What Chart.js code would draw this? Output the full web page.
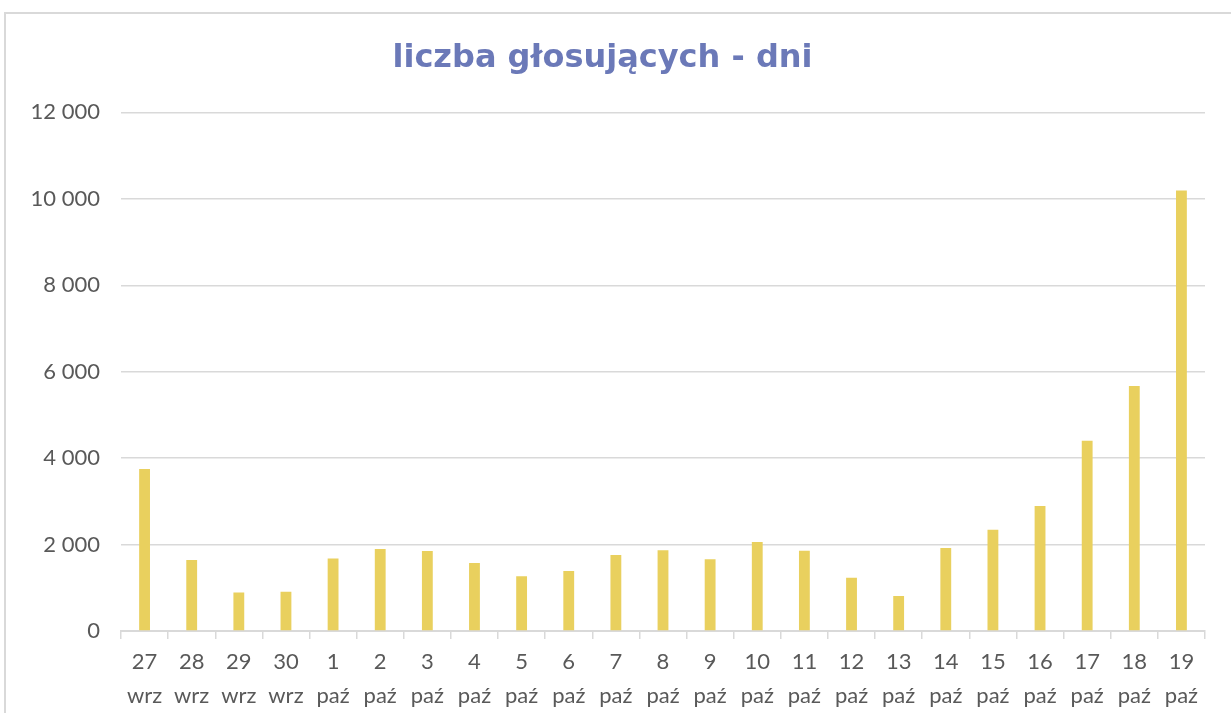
<!DOCTYPE html>
<html>
<head>
<meta charset="utf-8">
<script src="https://cdn.jsdelivr.net/npm/chart.js@4"></script>
<style>
  html, body { margin: 0; padding: 0; background: #fff; overflow: hidden; }
  #frame {
    position: absolute; left: 4px; top: 12px; width: 1240px; height: 720px;
    border: 2px solid #d9d9d9; box-sizing: border-box;
  }
  #wrap { position: absolute; left: 0; top: 0; width: 1231px; height: 713px; }
</style>
</head>
<body>
<div id="frame"></div>
<div id="wrap"><canvas id="chart"></canvas></div>
<script>
// dni głosowania
const days = ['27', '28', '29', '30', '1', '2', '3', '4', '5', '6', '7', '8',
  '9', '10', '11', '12', '13', '14', '15', '16', '17', '18', '19'];
const months = ['wrz', 'wrz', 'wrz', 'wrz', 'paź', 'paź', 'paź', 'paź', 'paź',
  'paź', 'paź', 'paź', 'paź', 'paź', 'paź', 'paź', 'paź', 'paź', 'paź', 'paź',
  'paź', 'paź', 'paź'];
const voters = [3750, 1645, 890, 910, 1675, 1900, 1850, 1575, 1265, 1390, 1760,
  1870, 1660, 2060, 1855, 1235, 810, 1920, 2340, 2895, 4400, 5670, 10190];
const yTicks = [0, 2000, 4000, 6000, 8000, 10000, 12000];

const fmt = v => String(v).replace(/\B(?=(\d{3})+(?!\d))/g, ' ');
const font = 'Lato, "Open Sans", sans-serif';

new Chart(document.getElementById('chart'), {
  type: 'bar',
  data: {
    labels: days.map((d, i) => [d, months[i]]),
    datasets: [{
      label: 'liczba głosujących',
      data: voters,
      backgroundColor: '#e9d05e',
      barPercentage: 0.46,
      categoryPercentage: 0.5
    }]
  },
  options: {
    responsive: true,
    maintainAspectRatio: false,
    animation: false,
    layout: { padding: { left: 0, right: 26, top: 0, bottom: 0 } },
    plugins: {
      legend: { display: false },
      tooltip: { enabled: false },
      title: {
        display: true,
        text: 'liczba głosujących - dni',
        color: '#6b79b8',
        font: { family: '"DejaVu Sans", sans-serif', size: 32, weight: 'bold' },
        padding: { top: 39, bottom: 35 }
      }
    },
    scales: {
      x: {
        grid: {
          display: true,
          drawOnChartArea: false,
          drawTicks: true,
          tickLength: 8,
          color: '#d9d9d9',
          lineWidth: 1.5
        },
        border: { display: true, color: '#d9d9d9', width: 2 },
        ticks: {
          color: '#595959',
          font: { family: font, size: 22, lineHeight: 1.55 },
          padding: 6,
          maxRotation: 0,
          autoSkip: false
        },
        afterFit: s => { s.height = 82; }
      },
      y: {
        min: 0,
        max: 12000,
        afterBuildTicks: s => { s.ticks = yTicks.map(v => ({ value: v })); },
        grid: { color: '#d9d9d9', lineWidth: 1.5, drawTicks: false },
        border: { display: false },
        ticks: {
          color: '#595959',
          font: { family: font, size: 22 },
          padding: 21,
          callback: v => fmt(v)
        },
        afterFit: s => { s.width = 121; }
      }
    }
  }
});
</script>
</body>
</html>
